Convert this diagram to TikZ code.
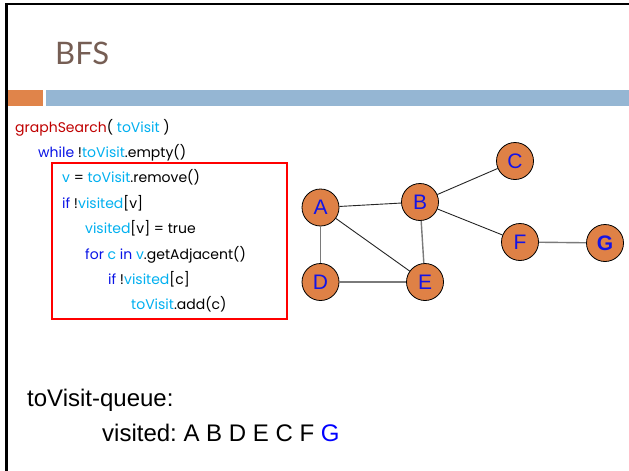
\documentclass[tikz,border=0pt]{standalone}
\usepackage{fontspec}
\setmainfont{Liberation Sans}
\newfontfamily\titlefont{Lato}
\newfontfamily\codefont{Poppins}
\definecolor{titlebrown}{HTML}{765E54}
\definecolor{barorange}{HTML}{E0844A}
\definecolor{barblue}{HTML}{95B6D3}
\definecolor{kwred}{HTML}{C00000}
\definecolor{kwblue}{HTML}{0A14E6}
\definecolor{varblue}{HTML}{00B0F0}
\definecolor{vertexfill}{HTML}{DF8146}
\definecolor{vertexlabel}{HTML}{1414E6}
\definecolor{edgegray}{HTML}{7A7A7A}
\newcommand{\kwR}[1]{\textcolor{kwred}{#1}}
\newcommand{\kwB}[1]{\textcolor{kwblue}{#1}}
\newcommand{\vr}[1]{\textcolor{varblue}{#1}}
\frenchspacing
\tikzset{
  codeline/.style={anchor=base west, inner sep=0pt, font=\codefont\fontsize{14}{17}\selectfont},
  vertex/.style={circle, draw=black, line width=0.8pt, fill=vertexfill, minimum size=37pt, inner sep=0pt,
                 text=vertexlabel, font=\fontsize{21}{24}\selectfont},
  edgedark/.style={draw=black!85, line width=0.9pt},
  edgelight/.style={draw=edgegray, line width=1.4pt},
  plaintext/.style={anchor=base west, inner sep=0pt, font=\fontsize{24}{28}\selectfont}
}
\begin{document}
\begin{tikzpicture}[x=1pt, y=-1pt]
\useasboundingbox (0,0) rectangle (629,471);
\fill[white] (0,0) rectangle (629,471);

% slide frame and header
\draw[black, line width=2.5pt] (6.3,471) -- (6.3,3.8) -- (629,3.8);
\node[anchor=base west, inner sep=0pt, text=titlebrown, font=\titlefont\fontsize{31}{34}\selectfont] (title) at (55,64) {BFS};
\fill[barorange] (7.5,90) rectangle (43,106);
\fill[barblue] (46,90) rectangle (629,106);

% pseudo-code
\node[codeline] (l1) at (15,132) {\kwR{graphSearch}( \vr{toVisit} )};
\node[codeline] (l2) at (38,157.4) {\kwB{while} !\vr{toVisit}.empty()};
\node[codeline] (l3) at (62,182.8) {\vr{v} = \vr{toVisit}.remove()};
\node[codeline] (l4) at (62,208.2) {\kwB{if} !\vr{visited}[v]};
\node[codeline] (l5) at (85,233.6) {\vr{visited}[v] = true};
\node[codeline] (l6) at (85,259) {\kwB{for} \vr{c} \kwB{in} \vr{v}.getAdjacent()};
\node[codeline] (l7) at (108,284.4) {\kwB{if} !\vr{visited}[c]};
\node[codeline] (l8) at (131,309.8) {\vr{toVisit}.add(c)};
\draw[red, line width=2pt] (52,163) rectangle (287,319);

% graph
\node[vertex] (A) at (320.5,207.5) {A};
\node[vertex] (B) at (420,202) {B};
\node[vertex] (C) at (515,161) {C};
\node[vertex] (D) at (320.5,282) {D};
\node[vertex] (E) at (425,282) {E};
\node[vertex] (F) at (520,242) {F};
\node[vertex, font=\bfseries\fontsize{21}{24}\selectfont] (G) at (605,243) {G};
\path[edgedark] (A) -- (B);
\path[edgedark] (A) -- (E);
\path[edgedark] (B) -- (C);
\path[edgedark] (B) -- (F);
\path[edgelight] (A) -- (D);
\path[edgelight] (B) -- (E);
\path[edgelight] (D) -- (E);
\path[edgelight] (F) -- (G);

% queue state
\node[plaintext] (q) at (27,406) {toVisit-queue:};
\node[plaintext] (vis) at (102,441) {visited: A B D E C F \textcolor{blue}{G}};
\end{tikzpicture}
\end{document}
